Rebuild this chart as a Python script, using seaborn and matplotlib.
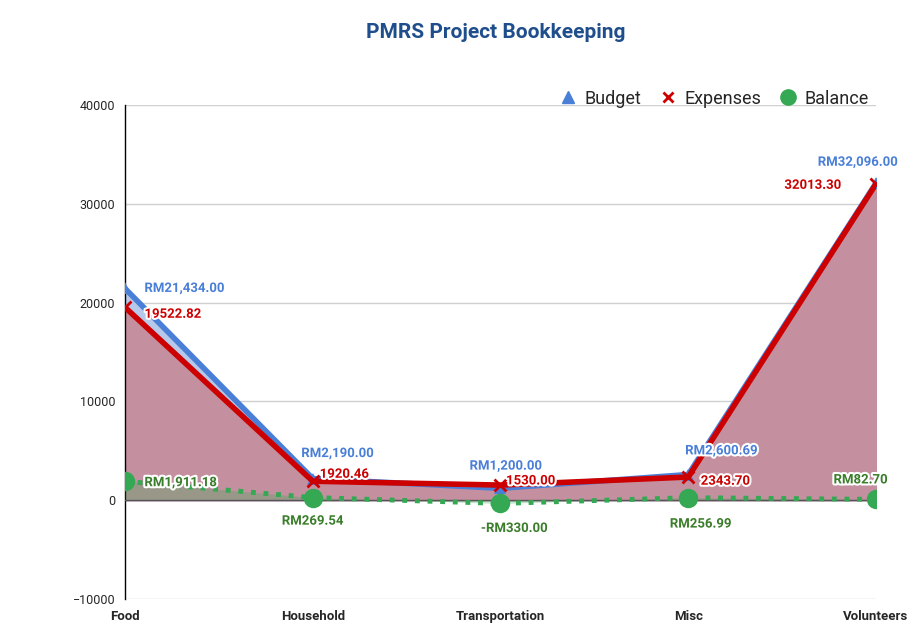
import numpy as np
import pandas as pd
import matplotlib
matplotlib.use('Agg')
import matplotlib.pyplot as plt
import matplotlib.patheffects as pe
from matplotlib.lines import Line2D
import seaborn as sns

categories = ['Food', 'Household', 'Transportation', 'Misc', 'Volunteers']
budget = [21434.00, 2190.00, 1200.00, 2600.69, 32096.00]
expenses = [19522.82, 1920.46, 1530.00, 2343.70, 32013.30]
balance = [1911.18, 269.54, -330.00, 256.99, 82.70]

budget_labels = ['RM21,434.00', 'RM2,190.00', 'RM1,200.00', 'RM2,600.69', 'RM32,096.00']
expense_labels = ['19522.82', '1920.46', '1530.00', '2343.70', '32013.30']
balance_labels = ['RM1,911.18', 'RM269.54', '-RM330.00', 'RM256.99', 'RM82.70']

c_budget = '#4a7fd8'
c_exp = '#cc0000'
c_bal = '#34a853'

sns.set_style('white')
plt.rcParams['font.family'] = ['Roboto', 'DejaVu Sans']

x = np.arange(len(categories))
df = pd.DataFrame({'x': x, 'Budget': budget, 'Expenses': expenses, 'Balance': balance})

fig = plt.figure(figsize=(9.09, 6.42), dpi=100)
ax = fig.add_axes([0.1375, 0.067, 0.8262, 0.7694])

# areas
ax.fill_between(df['x'], 0, df['Budget'], color='#b7c9ea', zorder=1)
ax.fill_between(df['x'], 0, df['Expenses'], color='#c4909f', zorder=2)
ax.fill_between(df['x'], 0, df['Balance'], color=c_bal, alpha=0.3, lw=0, zorder=3)

sns.lineplot(data=df, x='x', y='Budget', ax=ax, color=c_budget, lw=4,
             marker='^', markersize=9, markeredgewidth=0, zorder=4)
sns.lineplot(data=df, x='x', y='Expenses', ax=ax, color=c_exp, lw=4,
             marker='x', markersize=8, markeredgewidth=2,
             markeredgecolor=c_exp, zorder=5)
sns.lineplot(data=df, x='x', y='Balance', ax=ax, color=c_bal, lw=3.5,
             linestyle=(0, (1, 1.6)), marker='o', markersize=14, markeredgewidth=0,
             zorder=6)

stroke = [pe.withStroke(linewidth=3, foreground='white')]
lab_kw = dict(textcoords='offset points', fontsize=9.5, fontweight='bold',
              path_effects=stroke, zorder=8, annotation_clip=False)

b_off = [(14, 0, 'left'), (18, 18, 'center'), (4, 16, 'center'), (24, 17, 'center'), (-13, 15, 'center')]
e_off = [(14, -5, 'left'), (5, 5, 'left'), (4, 3, 'left'), (9, -3, 'left'), (-25, -1, 'right')]
l_off = [(14, -1, 'left'), (0, -17, 'center'), (10, -18, 'center'), (9, -19, 'center'), (-11, 14, 'center')]

for i in range(len(categories)):
    ax.annotate(budget_labels[i], (x[i], budget[i]), xytext=b_off[i][:2],
                ha=b_off[i][2], va='center', color=c_budget, **lab_kw)
    ax.annotate(expense_labels[i], (x[i], expenses[i]), xytext=e_off[i][:2],
                ha=e_off[i][2], va='center', color=c_exp, **lab_kw)
    ax.annotate(balance_labels[i], (x[i], balance[i]), xytext=l_off[i][:2],
                ha=l_off[i][2], va='center', color='#3a7d2a', **lab_kw)

ax.set_xlim(0, len(categories) - 1)
ax.set_ylim(-10000, 40000)
ax.set_yticks([-10000, 0, 10000, 20000, 30000, 40000])
ax.set_xticks(x)
ax.set_xticklabels(categories, fontweight='bold', fontsize=9.5)
for t in ax.get_yticklabels():
    t.set_fontsize(9)
ax.grid(axis='y', color='#d0d0d0', lw=1)
ax.set_axisbelow(True)
for s in ['top', 'right', 'bottom']:
    ax.spines[s].set_visible(False)
ax.spines['left'].set_color('black')
ax.spines['left'].set_linewidth(1)
ax.tick_params(axis='y', direction='inout', length=10, width=1, color='black', pad=2)
ax.tick_params(axis='x', length=0, pad=8)
ax.set_xlabel('')
ax.set_ylabel('')
ax.axhline(0, color='#555555', lw=1, zorder=3.5)

handles = [
    Line2D([], [], ls='none', marker='^', color=c_budget, markersize=8, label='Budget'),
    Line2D([], [], ls='none', marker='x', color=c_exp, markersize=7, markeredgewidth=2, label='Expenses'),
    Line2D([], [], ls='none', marker='o', color=c_bal, markersize=11, label='Balance'),
]
ax.legend(handles=handles, loc='lower right', bbox_to_anchor=(1.0, 0.98), ncol=3,
          frameon=False, fontsize=13, handlelength=1, handletextpad=0.4,
          columnspacing=1.0, borderaxespad=0)

fig.text(0.545, 0.95, 'PMRS Project Bookkeeping', ha='center', va='center',
         fontsize=15, fontweight='bold', color='#1f4e8c')

fig.savefig('out.png', dpi=100)
